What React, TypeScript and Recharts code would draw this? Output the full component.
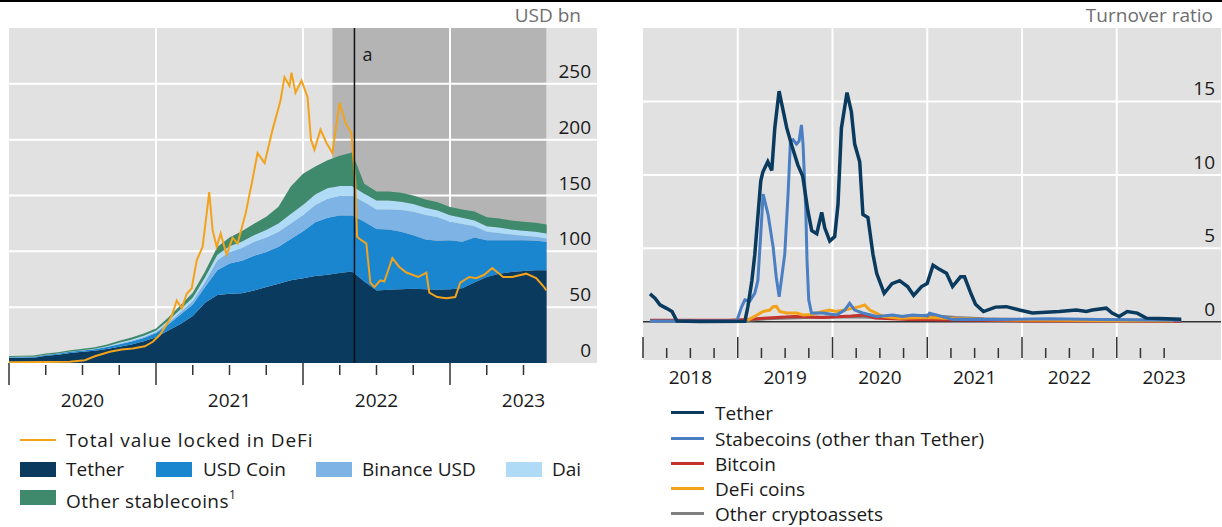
import React from 'react';
import { ComposedChart, LineChart, Area, Line, XAxis, YAxis, ReferenceArea, ReferenceLine } from 'recharts';

const FONT = '"Open Sans", "Noto Sans", sans-serif';
const TXT = '#1a1a1a';

// ---------------- Left panel: stablecoin market cap (USD bn) ----------------
const stableDates = [
  '2020-01-01', '2020-02-01', '2020-03-01', '2020-04-01', '2020-05-01', '2020-06-01',
  '2020-07-01', '2020-08-01', '2020-09-01', '2020-10-01', '2020-11-01', '2020-12-01',
  '2021-01-01', '2021-02-01', '2021-03-01', '2021-04-01', '2021-05-01', '2021-06-01',
  '2021-07-01', '2021-08-01', '2021-09-01', '2021-10-01', '2021-11-01', '2021-12-01',
  '2022-01-01', '2022-02-01', '2022-03-01', '2022-04-01', '2022-05-01', '2022-06-01',
  '2022-07-01', '2022-08-01', '2022-09-01', '2022-10-01', '2022-11-01', '2022-12-01',
  '2023-01-01', '2023-02-01', '2023-03-01', '2023-04-01', '2023-05-01', '2023-06-01',
  '2023-07-01', '2023-08-01', '2023-08-28',
];
const tetherCap = [
  4.6, 4.7, 4.8, 6.5, 7.5, 9.0, 10.0, 11.0, 12.5, 14.5, 16.5, 19.5,
  23.0, 29.0, 35.0, 42.0, 54.0, 61.0, 62.0, 62.5, 65.0, 68.0, 71.0, 74.0,
  76.0, 78.0, 79.0, 80.5, 82.0, 73.0, 65.0, 65.5, 66.0, 66.5, 66.0, 65.5,
  66.0, 67.0, 72.0, 77.0, 80.0, 81.5, 82.5, 83.0, 83.0,
];
const usdCoinCap = [
  0.5, 0.5, 0.6, 0.7, 0.8, 1.0, 1.1, 1.3, 1.8, 2.3, 2.8, 3.0,
  3.8, 5.5, 8.5, 10.5, 14.0, 22.0, 27.0, 29.0, 31.0, 31.5, 33.0, 37.0,
  42.0, 48.0, 51.0, 51.5, 50.0, 53.5, 55.0, 54.0, 51.5, 48.0, 44.5, 44.0,
  44.0, 41.5, 40.5, 33.0, 30.0, 28.5, 27.5, 26.5, 25.5,
];
const binanceCap = [
  0.2, 0.2, 0.2, 0.2, 0.2, 0.2, 0.2, 0.2, 0.3, 0.5, 0.6, 0.8,
  1.0, 1.5, 2.2, 3.0, 4.5, 9.0, 10.5, 11.5, 12.5, 13.0, 13.5, 14.0,
  14.5, 15.5, 17.0, 17.5, 18.0, 17.5, 17.5, 18.0, 19.5, 21.0, 22.0, 21.0,
  16.5, 16.0, 10.0, 7.5, 6.5, 5.0, 4.0, 3.5, 3.0,
];
const daiCap = [
  0.1, 0.1, 0.1, 0.1, 0.1, 0.1, 0.1, 0.2, 0.4, 0.8, 0.9, 1.0,
  1.1, 1.8, 2.5, 3.0, 4.0, 4.8, 5.0, 5.5, 5.8, 6.5, 7.5, 8.5,
  9.0, 9.5, 9.5, 9.0, 8.5, 7.5, 8.0, 8.0, 7.5, 7.0, 6.5, 6.0,
  5.8, 5.5, 5.2, 5.0, 4.8, 4.6, 4.5, 4.5, 4.5,
];
const otherStableCap = [
  0.9, 0.9, 1.0, 1.1, 1.1, 1.2, 1.3, 1.4, 1.6, 1.8, 2.0, 2.2,
  2.0, 3.0, 3.5, 4.5, 5.5, 7.0, 8.0, 9.5, 10.5, 12.0, 15.0, 24.5,
  28.0, 25.0, 25.0, 27.0, 30.0, 9.0, 8.0, 8.0, 8.0, 7.5, 7.5, 7.5,
  7.5, 7.5, 8.0, 8.0, 8.0, 8.0, 8.0, 8.0, 8.0,
];

// Total value locked in DeFi (USD bn), dates as fractional years
const tvlTimes = [
  2020.0, 2020.21, 2020.414, 2020.516, 2020.584, 2020.686, 2020.767, 2020.842, 2020.924, 2020.978,
  2021.025, 2021.066, 2021.107, 2021.141, 2021.175, 2021.209, 2021.243, 2021.277, 2021.317, 2021.362,
  2021.385, 2021.413, 2021.44, 2021.48, 2021.521, 2021.555, 2021.61, 2021.65, 2021.691, 2021.739,
  2021.793, 2021.847, 2021.874, 2021.908, 2021.922, 2021.949, 2021.99, 2022.031, 2022.054, 2022.078,
  2022.119, 2022.16, 2022.2, 2022.248, 2022.289, 2022.329, 2022.355, 2022.368, 2022.397, 2022.431,
  2022.458, 2022.486, 2022.526, 2022.553, 2022.608, 2022.655, 2022.703, 2022.784, 2022.839, 2022.859,
  2022.913, 2022.975, 2023.036, 2023.07, 2023.131, 2023.178, 2023.233, 2023.287, 2023.362, 2023.423,
  2023.518, 2023.586, 2023.64, 2023.655,
];
const tvlValues = [
  0.6, 0.8, 1.2, 2.5, 6, 10, 12, 13, 15, 19,
  25, 33, 42, 56, 49, 62, 67, 92, 104, 153,
  119, 104, 116, 97, 112, 107, 134, 160, 188, 179,
  209, 235, 256, 248, 260, 242, 253, 238, 200, 191,
  209, 197, 188, 233, 215, 206, 164, 113, 110, 107,
  72, 68, 74, 73, 94, 86, 81, 77, 81, 63,
  59, 58, 59, 72, 77, 76, 79, 85, 77, 77,
  80, 76, 68, 65,
];

const leftYTicks = [0, 50, 100, 150, 200, 250];
const leftXTicks = [
  2020, 2020.25, 2020.5, 2020.75, 2021, 2021.25, 2021.5, 2021.75,
  2022, 2022.25, 2022.5, 2022.75, 2023, 2023.25, 2023.5,
];
const leftYearLines = [2021, 2022, 2023];
const shadedStart = 2022.2;
const shadedEnd = 2023.655;
const eventA = 2022.35;

// ---------------- Right panel: turnover ratio ----------------
const tetherTurnT = [
  2018.074, 2018.126, 2018.179, 2018.253, 2018.306, 2018.358, 2018.6, 2019.075, 2019.106, 2019.149,
  2019.18, 2019.243, 2019.265, 2019.317, 2019.359, 2019.391, 2019.436, 2019.517, 2019.57, 2019.633,
  2019.686, 2019.739, 2019.781, 2019.834, 2019.886, 2019.918, 2019.971, 2020.023, 2020.058, 2020.094,
  2020.153, 2020.199, 2020.234, 2020.287, 2020.321, 2020.374, 2020.427, 2020.466, 2020.545, 2020.628,
  2020.708, 2020.792, 2020.856, 2020.94, 2020.999, 2021.061, 2021.123, 2021.203, 2021.267, 2021.351,
  2021.393, 2021.456, 2021.509, 2021.593, 2021.72, 2021.836, 2021.973, 2022.11, 2022.394, 2022.573,
  2022.679, 2022.742, 2022.889, 2022.951, 2023.025, 2023.11, 2023.216, 2023.31, 2023.448, 2023.68,
];
const tetherTurnV = [
  1.9, 1.6, 1.15, 0.9, 0.7, 0.05, 0.02, 0.03, 1.0, 2.8,
  4.6, 9.6, 10.2, 10.9, 10.3, 13.2, 15.7, 13.2, 12.0, 10.7,
  9.9, 7.6, 6.2, 6.0, 7.45, 6.4, 5.5, 5.8, 8.0, 13.2,
  15.6, 14.3, 12.1, 10.9, 7.3, 7.1, 4.6, 3.3, 1.94, 2.6,
  2.8, 2.4, 1.8, 2.4, 2.6, 3.85, 3.6, 3.3, 2.4, 3.06,
  3.06, 2.0, 1.2, 0.7, 1.0, 1.03, 0.8, 0.6, 0.7, 0.8,
  0.7, 0.8, 0.93, 0.59, 0.36, 0.7, 0.59, 0.25, 0.22, 0.18,
];
const stableTurnT = [
  2018.074, 2018.99, 2019.04, 2019.075, 2019.127, 2019.18, 2019.212, 2019.243, 2019.268, 2019.32,
  2019.373, 2019.407, 2019.437, 2019.496, 2019.531, 2019.556, 2019.584, 2019.62, 2019.647, 2019.672,
  2019.689, 2019.718, 2019.731, 2019.749, 2019.778, 2019.897, 2020.044, 2020.129, 2020.181, 2020.234,
  2020.318, 2020.466, 2020.634, 2020.74, 2020.845, 2021.003, 2021.024, 2021.094, 2021.267, 2021.762,
  2022.289, 2022.816, 2023.311, 2023.68,
];
const stableTurnV = [
  0.05, 0.05, 1.0, 1.5, 1.4, 1.95, 2.8, 6.0, 8.7, 7.3,
  5.1, 3.0, 1.7, 4.6, 8.7, 12.3, 12.4, 12.1, 12.3, 13.4,
  12.1, 7.6, 4.2, 1.5, 0.6, 0.6, 0.47, 0.8, 1.26, 0.8,
  0.6, 0.36, 0.47, 0.36, 0.47, 0.4, 0.59, 0.47, 0.15, 0.15,
  0.2, 0.15, 0.12, 0.1,
];
const bitcoinTurnT = [2018.074, 2018.9, 2019.1, 2019.27, 2019.6, 2019.9, 2020.2, 2020.33, 2020.45, 2020.8, 2021.3, 2022.0, 2022.8, 2023.68];
const bitcoinTurnV = [0.1, 0.1, 0.15, 0.25, 0.36, 0.3, 0.4, 0.47, 0.25, 0.15, 0.12, 0.06, 0.05, 0.04];
const defiTurnT = [
  2019.1, 2019.16, 2019.268, 2019.338, 2019.373, 2019.408, 2019.443, 2019.514, 2019.62, 2019.689,
  2019.78, 2019.897, 2019.968, 2020.038, 2020.129, 2020.216, 2020.287, 2020.34, 2020.392, 2020.462,
  2020.532, 2020.7, 2021.0, 2021.3, 2021.6, 2022.0, 2022.5, 2023.0, 2023.6,
];
const defiTurnV = [
  0.1, 0.3, 0.7, 0.8, 1.03, 1.05, 0.7, 0.6, 0.6, 0.47,
  0.5, 0.7, 0.8, 0.7, 0.8, 0.93, 1.03, 1.15, 0.8, 0.59,
  0.36, 0.25, 0.3, 0.2, 0.15, 0.12, 0.1, 0.08, 0.08,
];
const otherTurnT = [2018.074, 2019.0, 2019.3, 2019.7, 2020.2, 2020.5, 2021.0, 2021.3, 2021.6, 2022.0, 2023.68];
const otherTurnV = [0.05, 0.05, 0.2, 0.3, 0.35, 0.3, 0.45, 0.3, 0.2, 0.15, 0.1];

const rightYTicks = [0, 5, 10, 15];
const rightXTicks = [
  2018, 2018.25, 2018.5, 2018.75, 2019, 2019.25, 2019.5, 2019.75, 2020, 2020.25, 2020.5, 2020.75,
  2021, 2021.25, 2021.5, 2021.75, 2022, 2022.25, 2022.5, 2022.75, 2023, 2023.25, 2023.5,
];
const rightYearLines = [2019, 2020, 2021, 2022, 2023];

// ---------------- colours ----------------
const C = {
  tether: '#0b3a5f',
  usdc: '#1a86d0',
  busd: '#7db3e5',
  dai: '#b0dbf7',
  other: '#3f8a6c',
  tvl: '#f2a31b',
  stable: '#4a7fc3',
  bitcoin: '#c3322d',
  defi: '#f2a31b',
  otherCrypto: '#7f7f7f',
  bg: '#e1e1e1',
  shade: '#b4b4b4',
};

function toYear(d: string): number {
  const [y, m, day] = d.split('-').map(Number);
  return y + (m - 1) / 12 + (day - 1) / 365;
}

const stableData = stableDates.map((d, i) => ({
  t: toYear(d),
  tether: tetherCap[i],
  usdc: usdCoinCap[i],
  busd: binanceCap[i],
  dai: daiCap[i],
  other: otherStableCap[i],
}));
const tvlData = tvlTimes.map((t, i) => ({ t, v: tvlValues[i] }));
const zip = (ts: number[], vs: number[]) => ts.map((t, i) => ({ t, v: vs[i] }));

const isInt = (v: number) => Math.abs(v - Math.round(v)) < 1e-6;
const isMid = (v: number) => Math.abs(v - Math.floor(v) - 0.5) < 1e-6;

const LeftXTick = (p: any) => {
  const { x, y, payload } = p;
  const v = payload.value as number;
  const major = isInt(v);
  return (
    <g>
      <line x1={x} x2={x} y1={major ? y : y + 2} y2={major ? y + 22 : y + 12} stroke="#333" strokeWidth={1.5} />
      {isMid(v) && (
        <text x={x} y={y + 44} textAnchor="middle" fontSize={19} fill={TXT} fontFamily={FONT}>
          {Math.floor(v)}
        </text>
      )}
    </g>
  );
};

const RightXTick = (p: any) => {
  const { x, y, payload } = p;
  const v = payload.value as number;
  const major = isInt(v);
  return (
    <g>
      <line x1={x} x2={x} y1={major ? y - 23 : y - 12} y2={y - 2} stroke="#333" strokeWidth={1.5} />
      {isMid(v) && (
        <text x={x} y={y + 24} textAnchor="middle" fontSize={19} fill={TXT} fontFamily={FONT}>
          {Math.floor(v)}
        </text>
      )}
    </g>
  );
};

const YTick = (p: any) => {
  const { x, y, payload } = p;
  return (
    <text x={x - 6} y={y - 6} textAnchor="end" fontSize={19} fill={TXT} fontFamily={FONT}>
      {payload.value}
    </text>
  );
};

const LabelA = (p: any) => {
  const vb = p.viewBox || {};
  return (
    <text x={(vb.x || 0) + 8} y={(vb.y || 0) + 33} fontSize={18} fill={TXT} fontFamily={FONT}>
      a
    </text>
  );
};

const legendText: React.CSSProperties = {
  position: 'absolute',
  fontFamily: FONT,
  fontSize: 19,
  color: TXT,
  lineHeight: '24px',
  height: 24,
  whiteSpace: 'nowrap',
};

const Swatch = ({ left, top, color }: { left: number; top: number; color: string }) => (
  <div style={{ position: 'absolute', left, top, width: 36, height: 15, background: color }} />
);
const LineKey = ({ left, top, color, w, h }: { left: number; top: number; color: string; w: number; h: number }) => (
  <div style={{ position: 'absolute', left, top, width: w, height: h, background: color }} />
);

export default function App() {
  return (
    <div style={{ position: 'absolute', left: 0, top: 0, width: 1222, height: 527, background: '#fff', overflow: 'hidden' }}>
      <div style={{ position: 'absolute', left: 0, top: 0, width: 1222, height: 2, background: '#000' }} />

      {/* Left panel */}
      <div style={{ ...legendText, right: 1222 - 581, top: 3, color: '#6e6e6e' }}>USD bn</div>
      <div style={{ position: 'absolute', left: 0, top: 0 }}>
        <ComposedChart width={600} height={420} data={stableData} margin={{ top: 28, right: 2, bottom: 7, left: 9 }}>
          <XAxis
            type="number"
            dataKey="t"
            domain={[2020, 2024]}
            ticks={leftXTicks}
            interval={0}
            tick={(p: any) => <LeftXTick {...p} />}
            tickLine={false}
            axisLine={false}
            tickSize={0}
            tickMargin={0}
            height={50}
            allowDataOverflow
          />
          <YAxis
            type="number"
            orientation="right"
            domain={[0, 300]}
            ticks={leftYTicks}
            interval={0}
            tick={(p: any) => <YTick {...p} />}
            tickLine={false}
            axisLine={false}
            tickSize={0}
            tickMargin={0}
            width={1}
            allowDataOverflow
          />
          <ReferenceArea x1={2020} x2={2024} y1={0} y2={300} fill={C.bg} fillOpacity={1} stroke="none" zIndex={-300} />
          <ReferenceArea x1={shadedStart} x2={shadedEnd} y1={0} y2={300} fill={C.shade} fillOpacity={1} stroke="none" zIndex={-250} />
          {leftYTicks.slice(1).map((v) => (
            <ReferenceLine key={'h' + v} y={v} stroke="#fff" strokeWidth={2} zIndex={-200} />
          ))}
          {leftYearLines.map((v) => (
            <ReferenceLine key={'v' + v} x={v} stroke="#fff" strokeWidth={2} zIndex={-200} />
          ))}
          <Area type="linear" dataKey="tether" stackId="s" stroke="none" fill={C.tether} fillOpacity={1} isAnimationActive={false} />
          <Area type="linear" dataKey="usdc" stackId="s" stroke="none" fill={C.usdc} fillOpacity={1} isAnimationActive={false} />
          <Area type="linear" dataKey="busd" stackId="s" stroke="none" fill={C.busd} fillOpacity={1} isAnimationActive={false} />
          <Area type="linear" dataKey="dai" stackId="s" stroke="none" fill={C.dai} fillOpacity={1} isAnimationActive={false} />
          <Area type="linear" dataKey="other" stackId="s" stroke="none" fill={C.other} fillOpacity={1} isAnimationActive={false} />
          <Line data={tvlData} type="linear" dataKey="v" stroke={C.tvl} strokeWidth={2} dot={false} isAnimationActive={false} />
          <ReferenceLine x={eventA} stroke="#111" strokeWidth={1.5} zIndex={700} label={(p: any) => <LabelA {...p} />} />
        </ComposedChart>
      </div>

      {/* Left legend */}
      <LineKey left={20} top={439} color={C.tvl} w={36} h={2} />
      <div style={{ ...legendText, left: 66, top: 428, letterSpacing: 0.9 }}>Total value locked in DeFi</div>
      <Swatch left={20} top={462} color={C.tether} />
      <div style={{ ...legendText, left: 66, top: 457 }}>Tether</div>
      <Swatch left={156} top={462} color={C.usdc} />
      <div style={{ ...legendText, left: 203, top: 457 }}>USD Coin</div>
      <Swatch left={316} top={462} color={C.busd} />
      <div style={{ ...legendText, left: 362, top: 457 }}>Binance USD</div>
      <Swatch left={506} top={462} color={C.dai} />
      <div style={{ ...legendText, left: 552, top: 457 }}>Dai</div>
      <Swatch left={20} top={490} color={C.other} />
      <div style={{ ...legendText, left: 66, top: 485, letterSpacing: 0.4 }}>
        Other stablecoins<sup style={{ fontSize: 12, position: 'relative', top: -2 }}>1</sup>
      </div>

      {/* Right panel */}
      <div style={{ ...legendText, right: 1222 - 1213, top: 3, color: '#6e6e6e' }}>Turnover ratio</div>
      <div style={{ position: 'absolute', left: 610, top: 0 }}>
        <LineChart width={612} height={420} margin={{ top: 28, right: 0, bottom: 0, left: 33 }}>
          <XAxis
            type="number"
            dataKey="t"
            domain={[2018, 2024.1]}
            ticks={rightXTicks}
            interval={0}
            tick={(p: any) => <RightXTick {...p} />}
            tickLine={false}
            axisLine={false}
            tickSize={0}
            tickMargin={0}
            height={60}
            allowDataOverflow
          />
          <YAxis
            type="number"
            orientation="right"
            domain={[-2.6, 20]}
            ticks={rightYTicks}
            interval={0}
            tick={(p: any) => <YTick {...p} />}
            tickLine={false}
            axisLine={false}
            tickSize={0}
            tickMargin={0}
            width={1}
            allowDataOverflow
          />
          <ReferenceArea x1={2018} x2={2024.1} y1={-2.6} y2={20} fill={C.bg} fillOpacity={1} stroke="none" zIndex={-300} />
          {rightYTicks.slice(1).map((v) => (
            <ReferenceLine key={'h' + v} y={v} stroke="#fff" strokeWidth={2} zIndex={-200} />
          ))}
          {rightYearLines.map((v) => (
            <ReferenceLine key={'v' + v} x={v} stroke="#fff" strokeWidth={2} zIndex={-200} />
          ))}
          <ReferenceLine y={0} stroke="#333" strokeWidth={1.5} zIndex={-150} />
          <Line data={zip(otherTurnT, otherTurnV)} type="linear" dataKey="v" stroke={C.otherCrypto} strokeWidth={3} dot={false} isAnimationActive={false} />
          <Line data={zip(bitcoinTurnT, bitcoinTurnV)} type="linear" dataKey="v" stroke={C.bitcoin} strokeWidth={3} dot={false} isAnimationActive={false} />
          <Line data={zip(defiTurnT, defiTurnV)} type="linear" dataKey="v" stroke={C.defi} strokeWidth={3} dot={false} isAnimationActive={false} />
          <Line data={zip(stableTurnT, stableTurnV)} type="linear" dataKey="v" stroke={C.stable} strokeWidth={3} dot={false} isAnimationActive={false} />
          <Line data={zip(tetherTurnT, tetherTurnV)} type="linear" dataKey="v" stroke={C.tether} strokeWidth={3.5} dot={false} isAnimationActive={false} />
        </LineChart>
      </div>

      {/* Right legend */}
      <LineKey left={671} top={411} color={C.tether} w={33} h={3} />
      <div style={{ ...legendText, left: 715, top: 401 }}>Tether</div>
      <LineKey left={671} top={437} color={C.stable} w={33} h={3} />
      <div style={{ ...legendText, left: 715, top: 427 }}>Stabecoins (other than Tether)</div>
      <LineKey left={671} top={462} color={C.bitcoin} w={33} h={3} />
      <div style={{ ...legendText, left: 715, top: 452 }}>Bitcoin</div>
      <LineKey left={671} top={487} color={C.defi} w={33} h={3} />
      <div style={{ ...legendText, left: 715, top: 477 }}>DeFi coins</div>
      <LineKey left={671} top={512} color={C.otherCrypto} w={33} h={3} />
      <div style={{ ...legendText, left: 715, top: 502 }}>Other cryptoassets</div>
    </div>
  );
}
